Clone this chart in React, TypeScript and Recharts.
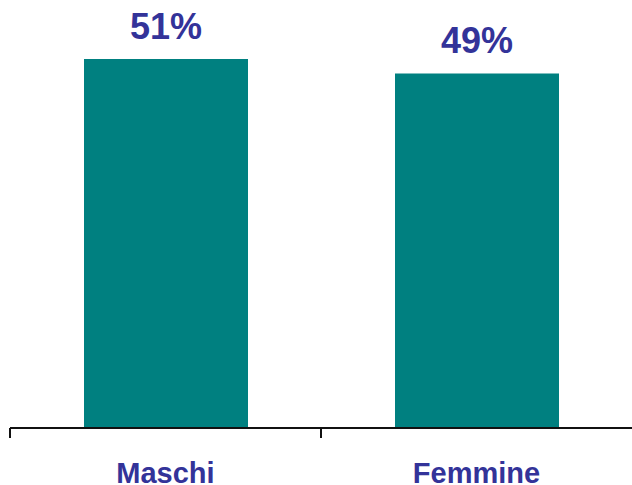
import React from 'react';
import { BarChart, Bar, XAxis, YAxis, LabelList } from 'recharts';

const categories = ['Maschi', 'Femmine'];
const values = [51, 49];
const valueLabels = ['51%', '49%'];

const data = categories.map((c, i) => ({ name: c, value: values[i], label: valueLabels[i] }));

const W = 632;
const H = 485;
const ML = 10;
const MR = 0;
const HALF_BAND = (W - ML - MR) / categories.length / 2;
const TEXT = '#333399';

const Tick = (props: any) => {
  const { x, y, payload } = props;
  return (
    <g>
      <line x1={x - HALF_BAND} y1={y} x2={x - HALF_BAND} y2={y + 10} stroke="#111" strokeWidth={2} />
      <text x={x} y={y + 55} textAnchor="middle" fill={TEXT} fontFamily="Arial, 'Liberation Sans', sans-serif" fontWeight="bold" fontSize={29}>
        {payload.value}
      </text>
    </g>
  );
};

export default function App() {
  return (
    <div style={{ position: 'absolute', left: 0, top: 0, background: '#fff' }}>
      <BarChart width={W} height={H} data={data} margin={{ top: 30, right: MR, left: ML, bottom: 0 }}>
        <XAxis
          dataKey="name"
          height={57}
          tickLine={false}
          tickSize={0}
          tickMargin={0}
          axisLine={{ stroke: '#111', strokeWidth: 2 }}
          tick={<Tick />}
          interval={0}
        />
        <YAxis hide domain={[0, 55]} />
        <Bar dataKey="value" fill="#008080" barSize={164} isAnimationActive={false}>
          <LabelList
            dataKey="label"
            position="top"
            offset={20}
            fill={TEXT}
            fontFamily="Arial, 'Liberation Sans', sans-serif"
            fontWeight="bold"
            fontSize={36}
          />
        </Bar>
      </BarChart>
    </div>
  );
}
